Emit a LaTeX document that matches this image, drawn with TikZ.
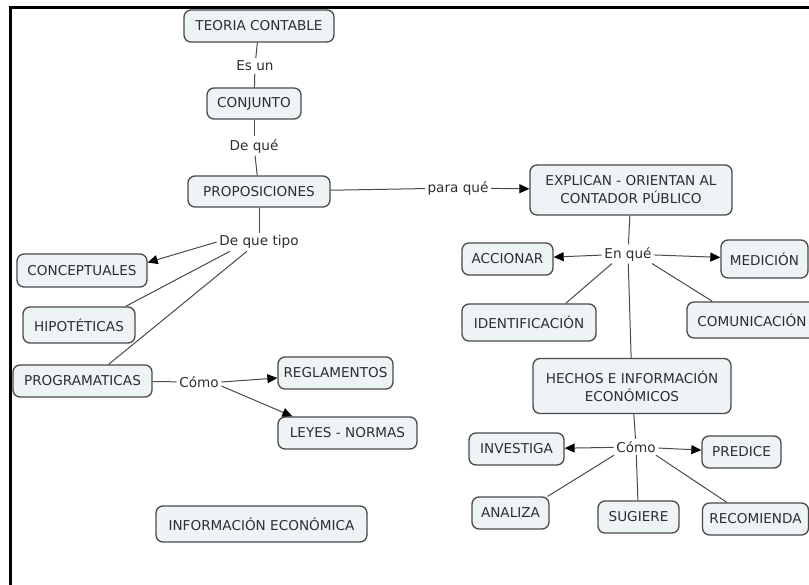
\documentclass[tikz,border=0pt]{standalone}
\usepackage{fontspec}
\setmainfont{DejaVu Sans}
\usetikzlibrary{arrows.meta}
\definecolor{boxfill}{HTML}{EEF3F6}
\definecolor{edgec}{HTML}{4A4A4A}
\definecolor{txt}{HTML}{2E2E2E}
\begin{document}
\begin{tikzpicture}[x=1pt,y=-1pt,
  box/.style={draw=edgec, fill=boxfill, rounded corners=7pt, line width=1.3pt,
    font=\fontsize{13.6}{18}\selectfont, align=center, inner sep=0pt, text=txt},
  lab/.style={font=\fontsize{13.6}{15}\selectfont, inner sep=2.5pt, text=txt},
  conn/.style={draw=edgec, line width=1pt},
  arr/.style={conn, -{Triangle[length=10pt,width=9pt,color=black]}}]
\useasboundingbox (0,0) rectangle (809,585);
\clip (0,0) rectangle (809,585);
\draw[line width=3pt, black] (10.5,585) -- (10.5,7.5) -- (809,7.5);

% nodes
\node[box, minimum width=150pt, minimum height=32pt] (teoria) at (259,26) {TEORIA CONTABLE};
\node[lab] (esun) at (255,66) {Es un};
\node[box, minimum width=94pt, minimum height=31pt] (conj) at (254,103.5) {CONJUNTO};
\node[lab] (deque) at (254,146) {De qué};
\node[box, minimum width=142pt, minimum height=31pt] (prop) at (259,191.5) {PROPOSICIONES};
\node[lab] (paraque) at (458,188) {para qué};
\node[box, minimum width=202pt, minimum height=50pt] (expl) at (631,190) {EXPLICAN - ORIENTAN AL\\CONTADOR PÚBLICO};
\node[lab] (tipo) at (259,242) {De que tipo};
\node[box, minimum width=130pt, minimum height=33pt] (concep) at (82,270.5) {CONCEPTUALES};
\node[box, minimum width=112pt, minimum height=36pt] (hip) at (79,325) {HIPOTÉTICAS};
\node[box, minimum width=139pt, minimum height=32pt] (prog) at (82.5,381) {PROGRAMATICAS};
\node[lab] (como1) at (199,382) {Cómo};
\node[box, minimum width=115pt, minimum height=32pt] (regl) at (335.5,373) {REGLAMENTOS};
\node[box, minimum width=139pt, minimum height=32pt] (leyes) at (347.5,433) {LEYES - NORMAS};
\node[box, minimum width=211pt, minimum height=36pt] (infoec) at (261.5,524) {INFORMACIÓN ECONÓMICA};
\node[lab] (enque) at (628,254) {En qué};
\node[box, minimum width=91pt, minimum height=32pt] (acc) at (507.5,259) {ACCIONAR};
\node[box, minimum width=87pt, minimum height=38pt] (med) at (764.5,259) {MEDICIÓN};
\node[box, minimum width=130pt, minimum height=36pt] (comun) at (752,320) {COMUNICACIÓN};
\node[box, minimum width=134pt, minimum height=37pt] (ident) at (529,322.5) {IDENTIFICACIÓN};
\node[box, minimum width=198pt, minimum height=55pt] (hechos) at (632,386) {HECHOS E INFORMACIÓN\\ECONÓMICOS};
\node[lab] (como2) at (636,447) {Cómo};
\node[box, minimum width=95pt, minimum height=32pt] (inv) at (516.5,449) {INVESTIGA};
\node[box, minimum width=79pt, minimum height=32pt] (pred) at (741.5,452) {PREDICE};
\node[box, minimum width=77pt, minimum height=32pt] (anal) at (510.5,513) {ANALIZA};
\node[box, minimum width=81pt, minimum height=32pt] (sug) at (638.5,517) {SUGIERE};
\node[box, minimum width=106pt, minimum height=32pt] (recom) at (755.5,519) {RECOMIENDA};

% connectors
\draw[conn] (teoria) -- (esun);
\draw[conn] (esun) -- (conj);
\draw[conn] (conj) -- (deque);
\draw[conn] (deque) -- (prop);
\draw[conn] (prop) -- (paraque);
\draw[arr] (paraque) -- (expl);
\draw[conn] (prop) -- (tipo);
\draw[arr] (tipo.west) -- ([yshift=8pt]concep.east);
\draw[conn] ([xshift=-29pt]tipo.south) -- ([xshift=-10pt]hip.north east);
\draw[conn] ([xshift=-12pt]tipo.south) -- ([xshift=-44pt]prog.north east);
\draw[conn] (prog) -- (como1);
\draw[arr] (como1.east) -- ([yshift=-5pt]regl.west);
\draw[arr] ([yshift=-4pt]como1.east) -- ([xshift=15pt]leyes.north west);
\draw[conn] (expl) -- (enque);
\draw[arr] (enque) -- (acc);
\draw[arr] (enque) -- (med);
\draw[conn] ([xshift=-16pt]enque.south) -- ([xshift=-31pt]ident.north east);
\draw[conn] ([xshift=24pt]enque.south) -- ([xshift=26pt]comun.north west);
\draw[conn] (enque) -- (hechos);
\draw[conn] (hechos) -- (como2);
\draw[arr] (como2) -- (inv);
\draw[arr] (como2) -- (pred);
\draw[conn] ([xshift=-22pt]como2.south) -- ([xshift=-2pt]anal.north east);
\draw[conn] (como2) -- (sug);
\draw[conn] ([xshift=20pt]como2.south) -- ([xshift=25pt]recom.north west);
\end{tikzpicture}
\end{document}
